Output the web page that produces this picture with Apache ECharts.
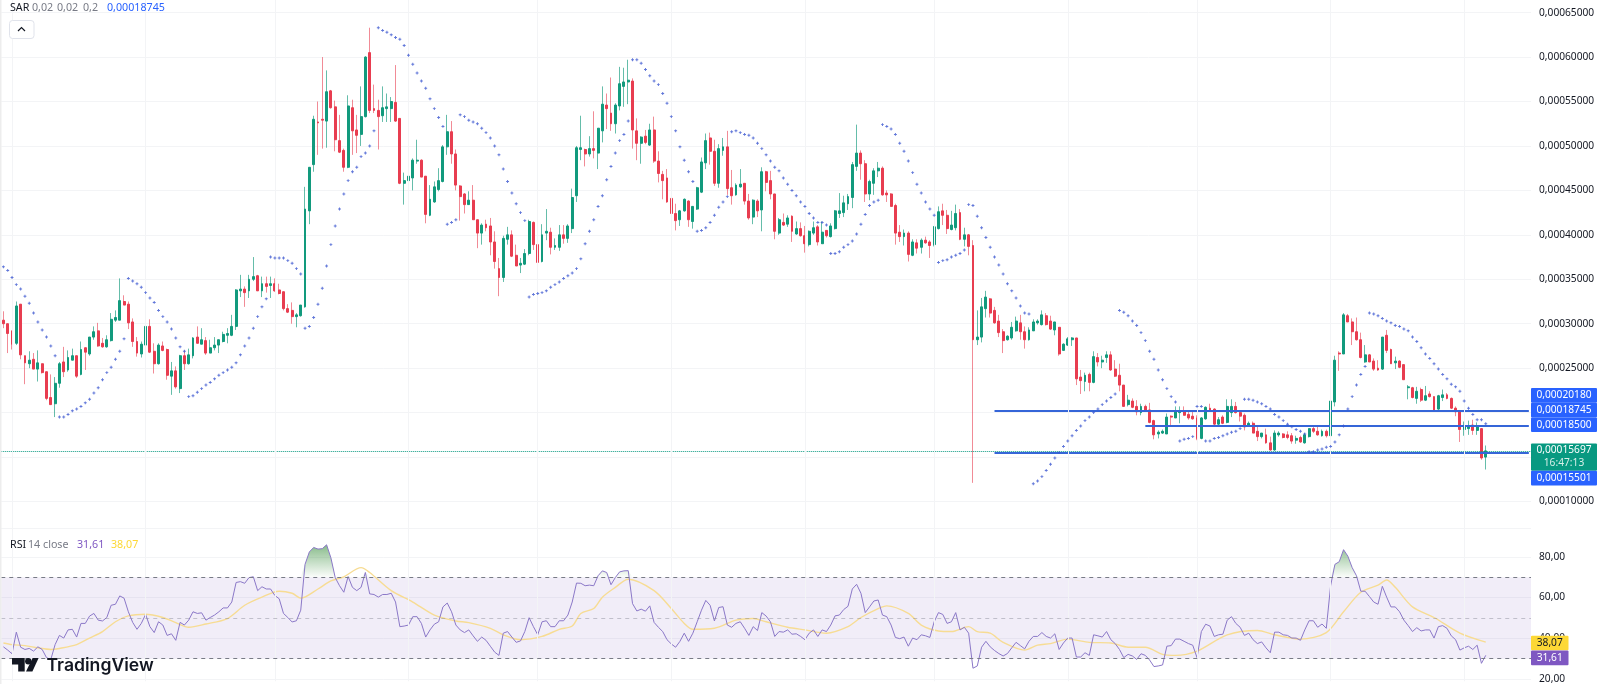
<!DOCTYPE html>
<html><head><meta charset="utf-8">
<script src="https://cdn.jsdelivr.net/npm/echarts@6/dist/echarts.min.js"></script>
<style>html,body{margin:0;padding:0;background:#fff}#c{width:1600px;height:684px}</style>
</head><body><div id="c"></div>
<script>
// prices are in millionths (295 = 0,00029500)
const opens=[304,300,292,278,322,264,255,260,249,255,246,217,210,233,257,248,259,264,243,273,
266,285,292,278,274,281,304,304,325,322,302,280,266,276,297,269,255,275,271,241,
247,227,264,255,264,285,277,281,267,273,276,280,287,287,297,337,339,337,350,354,
337,345,343,345,338,336,317,315,308,309,319,427,479,527,530,528,562,544,506,495,
476,543,518,513,533,605,542,540,534,542,542,549,531,458,461,464,483,484,466,422,
437,451,460,499,516,491,455,446,434,439,417,402,412,410,392,362,352,395,400,377,
366,367,379,414,389,370,402,403,386,386,400,396,407,444,496,496,491,497,492,517,
546,537,525,545,567,572,573,517,503,511,501,518,483,468,464,441,424,417,427,438,
415,429,448,481,509,494,458,495,499,453,445,454,458,438,420,438,428,471,461,446,
402,414,412,421,401,407,399,389,402,409,390,405,398,407,424,425,435,442,477,492,
480,446,458,472,475,447,446,433,403,398,402,377,391,386,394,392,389,407,427,422,
406,408,425,395,400,388,282,285,317,328,315,303,291,282,284,292,301,291,282,292,
301,299,309,303,293,296,270,276,282,284,240,235,243,234,262,257,262,265,249,242,
231,209,213,207,200,207,203,191,176,177,176,196,194,200,202,198,196,194,171,193,
205,204,187,195,189,200,207,200,197,186,188,179,173,175,166,158,175,176,175,174,
169,172,166,173,182,179,174,179,174,212,267,266,309,302,291,282,257,265,258,250,
249,287,271,256,258,254,228,228,216,226,214,221,218,204,217,220,216,205,202,181,
182,186,180,182,150];
const closes=[300,289,277,320,265,256,259,249,256,245,216,209,233,255,246,262,264,241,271,268,
285,291,275,274,282,305,307,326,321,301,280,267,277,297,268,255,276,270,242,247,
229,264,255,265,284,278,282,267,273,276,282,288,289,297,338,339,335,350,353,337,
345,342,345,337,334,317,313,308,310,321,429,476,530,526,529,561,543,507,493,476,
545,517,512,533,600,540,540,533,543,544,550,528,458,461,466,484,484,465,423,440,
454,461,499,516,491,456,443,434,439,417,402,411,408,392,370,352,396,400,376,365,
368,379,415,389,369,400,404,386,388,400,396,410,442,498,498,491,497,495,520,547,
542,525,546,570,572,574,518,503,510,504,518,483,469,461,437,424,416,427,440,417,
432,453,482,506,494,458,497,499,452,444,456,457,438,419,439,427,471,459,446,404,
417,411,419,404,407,399,390,404,408,392,403,399,410,427,427,436,443,479,492,480,
446,460,472,475,445,445,432,402,398,402,378,392,385,394,391,388,409,426,422,407,
411,424,395,400,387,282,285,319,330,312,301,290,281,286,296,303,291,282,293,302,
303,310,299,294,302,266,277,283,284,238,236,242,234,263,257,259,265,248,241,231,
207,214,206,201,207,202,189,175,178,179,195,195,201,201,197,194,193,171,194,206,
202,187,192,188,207,207,200,196,184,188,177,173,177,166,158,177,177,172,172,168,
171,167,175,182,179,175,179,174,213,259,266,310,302,291,282,262,265,257,249,248,
285,270,255,258,251,237,229,217,224,214,219,218,203,219,220,216,205,201,181,184,
185,180,184,149,156.97];
const highs=[314,300,292,325,322,264,269,267,270,255,246,243,240,257,274,270,272,264,280,273,
285,297,301,284,287,312,315,351,332,325,306,285,280,301,305,278,278,280,272,257,
252,265,270,272,285,297,295,285,282,285,282,291,295,310,339,355,342,355,375,355,
353,353,353,351,345,336,322,324,312,321,454,476,534,550,600,585,563,551,535,497,
557,552,535,567,601,633,569,552,567,559,555,591,531,470,475,486,507,485,466,456,
460,475,501,535,528,496,456,447,449,456,417,413,417,419,404,374,399,409,405,389,
374,384,417,415,394,412,429,408,396,411,411,412,452,500,534,497,511,539,520,567,
559,577,548,589,588,597,576,531,511,518,525,533,494,472,474,441,435,428,441,439,
432,454,487,514,515,507,502,509,517,473,458,474,458,446,440,440,476,472,472,446,
419,424,422,422,415,414,410,405,415,411,415,405,413,428,447,444,446,482,524,495,
484,462,475,482,477,450,447,435,411,406,404,395,395,396,398,394,410,432,435,428,
427,434,429,408,401,394,315,329,337,329,319,310,294,287,302,308,310,297,296,305,
305,315,312,309,302,296,278,285,285,284,248,245,245,269,267,264,269,269,259,255,
231,220,216,214,210,209,211,192,180,181,199,197,207,207,207,201,201,197,195,207,
210,205,195,197,215,215,212,202,199,190,190,186,177,182,173,180,179,177,179,177,
174,174,177,182,184,185,181,181,215,264,269,312,311,306,307,290,276,266,261,259,
285,293,272,263,259,254,231,229,229,228,230,224,218,220,226,222,217,207,203,190,
191,192,189,182,163];
const lows=[295,267,271,276,260,232,250,249,235,244,214,209,195,228,240,246,259,239,242,248,
264,282,274,273,273,280,302,304,321,294,274,263,262,274,267,244,254,269,237,220,
227,222,248,254,261,278,277,265,267,270,267,279,278,286,293,330,319,329,348,337,
330,335,329,336,333,315,312,300,296,308,318,412,471,490,497,498,542,494,492,471,
475,490,492,500,532,537,537,496,527,527,527,527,457,434,447,450,480,465,413,421,
436,449,459,490,480,450,416,424,434,417,385,389,404,377,362,331,347,389,375,365,
357,366,377,383,366,369,394,378,383,382,390,391,402,437,484,477,488,486,474,504,
519,517,514,540,544,547,497,484,480,502,500,481,459,440,436,411,405,410,426,409,
407,428,447,474,479,455,453,489,445,434,444,453,434,417,412,420,404,449,440,395,
400,410,409,392,400,398,380,387,400,388,390,397,397,406,419,420,428,430,472,462,
437,439,445,465,444,437,432,389,392,388,370,376,379,379,390,374,387,406,411,401,
405,405,394,387,377,121,276,279,307,307,300,285,267,281,282,291,282,272,281,292,
299,298,298,293,287,264,270,275,275,231,221,224,224,233,252,250,256,247,240,224,
207,207,205,197,197,201,188,170,171,176,176,186,194,188,197,192,192,169,170,192,
201,185,186,187,188,195,199,190,180,185,177,168,171,165,157,157,173,171,170,165,
165,166,165,172,177,174,173,172,174,207,247,266,302,276,281,261,256,257,247,247,
248,267,255,249,250,237,215,216,210,212,213,217,201,203,213,215,204,196,167,174,
175,175,175,147,136];
const sar=[364,360,352,344,339,331,323,312,302,293,285,275,264,
195,195,198,202,204,207,211,215,222,228,237,245,251,260,269,283,
351,348,345,341,335,329,324,315,308,302,294,284,274,269,
218,219,223,227,231,234,238,242,245,248,251,256,265,275,284,295,308,319,328,
375,374,374,374,371,368,362,356,
295,297,307,322,340,365,389,410,429,446,461,471,476,488,492,500,517,
633,630,628,625,622,620,613,602,592,582,573,565,553,542,532,522,
412,414,417,
535,533,529,527,525,520,515,509,500,490,474,460,447,435,425,416,
330,333,334,335,337,341,344,347,351,354,357,362,373,390,404,417,432,444,462,477,492,506,513,528,
597,597,593,586,579,573,569,559,548,533,517,499,484,471,460,
404,405,408,414,422,431,437,443,
516,517,515,513,512,509,503,497,490,483,476,472,464,457,450,444,437,432,424,419,414,414,411,
379,379,381,386,389,393,401,412,423,433,437,439,
524,522,519,513,503,494,483,470,457,447,437,429,422,
369,371,372,375,377,379,383,
434,433,421,408,397,386,375,366,356,345,337,329,320,312,311,
120,123,128,135,142,149,155,162,168,174,180,185,191,195,200,204,209,213,217,221,
315,313,309,303,298,290,281,269,260,248,237,227,218,212,
168,170,171,173,
207,207,
168,168,171,172,174,176,178,179,182,
215,215,214,212,210,207,204,198,195,191,187,184,181,179,176,
156,156,158,159,161,162,167,175,185,204,218,231,243,252,
312,311,309,306,303,301,298,297,294,292,285,280,273,266,261,255,249,243,238,232,229,224,213,205,198,192,192,187.45];
const rsi=[35.8,34.2,32.4,43.0,35.6,34.5,35.0,33.7,35.8,34.5,30.5,29.6,36.9,41.4,40.1,44.1,44.4,40.6,47.3,47.3,
50.9,52.2,48.9,48.5,50.2,56.2,56.7,60.8,59.7,53.0,47.8,44.4,47.3,51.7,45.7,42.8,48.1,46.5,41.4,42.2,
39.0,47.8,46.5,48.9,53.0,52.2,52.5,48.9,50.2,51.4,53.0,54.9,54.9,57.8,67.4,67.8,67.0,69.8,70.2,63.4,
65.3,64.2,64.2,61.0,59.4,52.2,50.2,48.0,48.6,53.8,76.3,82.4,84.6,83.8,84.0,85.9,79.5,69.8,65.8,62.6,
70.3,65.0,63.4,65.0,72.3,61.8,61.5,60.2,61.5,61.5,62.1,57.8,45.7,46.0,46.5,50.6,50.6,47.3,40.6,44.1,
46.9,48.1,55.4,57.3,53.0,46.5,44.1,42.8,44.1,41.2,38.5,40.6,39.0,36.1,33.2,31.6,42.5,43.3,40.6,38.0,
38.7,43.3,50.1,45.7,41.7,48.1,48.6,45.7,45.7,48.6,48.6,51.4,57.8,67.1,67.0,65.8,66.1,65.8,70.7,73.1,
72.3,66.3,69.8,72.6,73.1,73.2,57.0,53.4,54.3,53.3,55.9,47.8,45.4,43.3,39.3,37.2,35.6,38.5,42.5,38.5,
42.5,48.1,53.8,58.6,56.2,48.5,55.1,55.5,46.5,45.4,47.3,48.1,44.9,41.4,45.7,43.8,52.6,50.9,48.1,40.9,
43.3,43.0,44.1,42.0,42.2,40.9,39.3,42.5,44.1,40.9,44.1,43.3,46.5,51.0,51.4,54.1,55.7,64.2,66.5,62.1,
52.6,55.4,58.3,58.8,51.4,50.6,46.5,40.4,39.8,40.6,36.1,40.1,39.3,41.7,41.2,40.4,48.1,52.6,51.7,47.3,
48.1,52.6,44.1,45.4,42.5,25.3,26.4,35.6,38.5,35.8,34.0,32.5,31.3,32.5,35.3,38.0,36.4,34.8,38.5,40.9,
40.9,42.8,40.9,40.1,42.2,34.5,37.7,40.1,40.1,30.8,30.8,32.9,31.6,41.7,41.2,40.6,43.3,39.3,37.4,34.5,
30.5,32.1,31.3,29.6,32.4,31.6,29.3,26.1,26.4,26.9,36.1,36.4,39.6,39.6,38.5,37.4,36.6,30.5,43.3,46.9,
46.0,40.9,41.7,42.0,48.9,50.6,47.3,45.4,41.4,42.5,39.3,37.4,38.2,35.3,32.9,43.0,43.0,41.7,41.4,40.1,
40.1,39.0,44.1,48.6,48.6,45.4,47.0,44.9,65.8,76.3,77.6,83.5,80.3,74.7,70.7,63.1,63.1,60.5,57.8,56.7,
65.5,60.2,55.4,55.4,53.0,48.9,46.2,43.3,45.2,43.6,44.1,44.1,40.1,45.7,46.2,44.9,41.2,39.3,34.2,35.3,
36.1,34.5,36.6,27.7,31.61];
const maIndex=[0,2,5,8,11,13,17,20,23,26,29,33,37,40,43,47,52,56,60,64,67,69,73,76,79,83,85,90,95,100,105,108,113,116,120,
125,129,132,134,137,139,142,145,151,155,158,160,165,170,174,177,182,186,191,196,199,203,205,210,213,217,220,224,226,229,232,237,240,
243,247,252,257,261,265,269,272,277,284,291,295,301,307,311,315,319,321,323,327,332,338,344];
const maValues=[37.7,36.9,36.4,35.3,34.5,35.0,36.9,40.1,43.3,48.1,51.0,51.8,50.2,47.7,45.4,47.0,49.7,56.2,60.2,63.1,62.1,59.7,64.2,68.2,70.2,74.7,72.3,63.4,57.8,51.4,48.5,47.7,44.9,41.7,39.3,
40.9,44.4,46.0,52.2,54.6,60.2,65.0,69.0,63.4,54.6,47.3,44.4,44.9,48.9,49.7,48.1,45.4,44.1,42.5,45.7,50.2,54.6,55.9,52.2,46.5,43.6,43.3,45.7,43.3,42.5,38.0,34.2,36.6,
37.4,39.6,38.0,37.7,35.6,35.6,32.1,31.6,33.7,41.7,43.8,41.7,39.6,42.8,53.0,62.6,66.1,68.6,65.0,55.4,50.2,42.5,38.07];
const priceTicks=[100,150,200,250,300,350,400,450,500,550,600,650];
const rsiTicks=[20,40,60,80];
const dateTickIndex=[2,33,63,94,124,155,186,216,247,277,308,339];
const levelLines=[{from:230,value:201.8},{from:265,value:185},{from:230,value:155.01}];
const lastPrice=156.97;
const slots=Array.from({length:opens.length+10},(_,i)=>String(i));

const font='"Noto Sans"';
const UP='#129a7d',DOWN='#e83d50',GRID='#f3f4f6',TXT='#131722',MUTED='#787b86',BLUE='#2962ff';
const fmtPrice=v=>(v/1e6).toFixed(8).replace('.',',');
const fmtRsi=v=>v.toFixed(2).replace('.',',');
const vLines=dateTickIndex.map(i=>({xAxis:i}));

function tag(x,y,w,h,fill,label,color){
  return {type:'rect',z:50,shape:{x,y,width:w,height:h,r:1},style:{fill},
    textContent:{style:{text:label,fill:color||'#fff',font:'10.2px '+font},z:51},
    textConfig:{position:'inside'}};
}
function txt(x,y,t,c,size){return {type:'text',z:40,x,y,style:{text:t,fill:c,font:(size||10.7)+'px '+font,textVerticalAlign:'middle'}};}

const graphic=[
 {type:'rect',z:30,shape:{x:0,y:0,width:1.5,height:684},style:{fill:'#ededed'}},
 {type:'rect',z:1,shape:{x:0,y:528,width:1531,height:1},style:{fill:GRID}},
 txt(10,7.5,'SAR',TXT),txt(32,7.5,'0,02',MUTED),txt(57,7.5,'0,02',MUTED),txt(83,7.5,'0,2',MUTED),txt(107,7.5,'0,00018745','#2962ff'),
 {type:'rect',z:40,shape:{x:9.5,y:20.5,width:24.5,height:18,r:3},style:{fill:'#fff',stroke:'#e0e3eb',lineWidth:1}},
 {type:'polyline',z:41,shape:{points:[[18,31],[21.5,27.5],[25,31]]},style:{stroke:TXT,lineWidth:1.2,fill:null}},
 txt(10,544.5,'RSI',TXT),txt(28,544.5,'14 close',MUTED),txt(77,544.5,'31,61','#7e57c2'),txt(111,544.5,'38,07','#fdd835'),
 tag(1531,388,66,14.7,BLUE,'0,00020180'),
 tag(1531,402.7,66,14.7,BLUE,'0,00018745'),
 tag(1531,417.4,66,14.7,BLUE,'0,00018500'),
 {type:'rect',z:50,shape:{x:1531,y:443.5,width:66,height:27.2,r:1},style:{fill:'#089981'}},
 {type:'text',z:51,x:1564,y:450.5,style:{text:'0,00015697',fill:'#fff',font:'10.2px '+font,textAlign:'center',textVerticalAlign:'middle'}},
 {type:'text',z:51,x:1564,y:463,style:{text:'16:47:13',fill:'#d8efe9',font:'10.2px '+font,textAlign:'center',textVerticalAlign:'middle'}},
 tag(1531,470.7,66,14.7,BLUE,'0,00015501'),
 tag(1531,635.7,37.5,14.5,'#fdd835','38,07',TXT),
 tag(1531,650.5,37.5,14.8,'#7e57c2','31,61'),
 // TradingView mark
 {type:'polygon',z:40,shape:{points:[[12,658],[24.7,658],[24.7,671.6],[18.2,671.6],[18.2,664.6],[12,664.6]]},style:{fill:TXT}},
 {type:'circle',z:40,shape:{cx:28.3,cy:661.2,r:3.2},style:{fill:TXT}},
 {type:'polygon',z:40,shape:{points:[[32.6,658],[38.6,658],[32.4,671.6],[26,671.6]]},style:{fill:TXT}},
 {type:'text',z:40,x:46.5,y:665.5,style:{text:'TradingView',fill:TXT,font:'600 17.6px Inter',textVerticalAlign:'middle'}}
];

const option={
 animation:false,backgroundColor:'#fff',
 textStyle:{fontFamily:font},
 grid:[{left:1.25,top:0,width:1529.75,height:528,containLabel:false},{left:1.25,top:528.3,width:1529.75,height:155.7}],
 xAxis:[{type:'category',gridIndex:0,data:slots,show:false},{type:'category',gridIndex:1,data:slots,show:false}],
 yAxis:[
  {type:'value',gridIndex:0,position:'right',min:70.2,max:664.2,axisLine:{show:false},
   axisTick:{show:false,customValues:priceTicks},
   axisLabel:{customValues:priceTicks,formatter:fmtPrice,margin:8,color:TXT,fontSize:10.2,fontFamily:font},
   splitLine:{lineStyle:{color:GRID,width:1}}},
  {type:'value',gridIndex:1,position:'right',min:18.9,max:94,axisLine:{show:false},
   axisTick:{show:false,customValues:rsiTicks},
   axisLabel:{customValues:rsiTicks,formatter:fmtRsi,margin:8,color:TXT,fontSize:10.2,fontFamily:font},
   splitLine:{lineStyle:{color:GRID,width:1}}}
 ],
 graphic:{elements:graphic},
 series:[
  {type:'line',name:'grid-price',xAxisIndex:0,yAxisIndex:0,data:[],z:0,silent:true,
   markLine:{silent:true,symbol:'none',animation:false,label:{show:false},lineStyle:{color:GRID,width:1,type:'solid'},data:vLines}},
  {type:'line',name:'grid-rsi',xAxisIndex:1,yAxisIndex:1,data:[],z:0,silent:true,
   markLine:{silent:true,symbol:'none',animation:false,label:{show:false},lineStyle:{color:GRID,width:1,type:'solid'},data:vLines}},
  {type:'candlestick',name:'Price range',xAxisIndex:0,yAxisIndex:0,z:2,barWidth:1,
   data:opens.map((o,i)=>[o,closes[i],lows[i],highs[i]]),
   itemStyle:{color:'rgba(18,154,125,0.65)',color0:'rgba(232,61,80,0.6)',borderColor:'rgba(18,154,125,0.65)',borderColor0:'rgba(232,61,80,0.6)',borderWidth:1}},
  {type:'candlestick',name:'Price',xAxisIndex:0,yAxisIndex:0,z:3,barWidth:2.4,
   data:opens.map((o,i)=>[o,closes[i],Math.min(o,closes[i]),Math.max(o,closes[i])]),
   itemStyle:{color:UP,color0:DOWN,borderColor:UP,borderColor0:DOWN,borderWidth:1},
   markLine:{silent:true,symbol:'none',animation:false,label:{show:false},z:4,
    data:[
     {yAxis:lastPrice,lineStyle:{color:'#089981',width:1,type:'dotted'}},
     ...levelLines.map(l=>[{coord:[l.from,l.value],lineStyle:{color:'#3565d8',width:2,type:'solid'}},{coord:[slots.length-1,l.value]}])
    ]}},
  {type:'scatter',name:'SAR',xAxisIndex:0,yAxisIndex:0,z:5,
   symbol:'path://M1,0H2V1H3V2H2V3H1V2H0V1H1Z',symbolSize:2.9,
   data:sar.map((v,i)=>[i,v]),itemStyle:{color:'#3a55d0'}},
  {type:'line',name:'RSI band',xAxisIndex:1,yAxisIndex:1,data:[],z:1,silent:true,
   markArea:{silent:true,animation:false,itemStyle:{color:'rgba(126,87,194,0.11)'},data:[[{yAxis:70},{yAxis:30}]]},
   markLine:{silent:true,symbol:'none',animation:false,label:{show:false},
    data:[{yAxis:70,lineStyle:{color:'#787b86',width:1,type:[4,4]}},
          {yAxis:50,lineStyle:{color:'rgba(120,123,134,0.4)',width:1,type:[4,4]}},
          {yAxis:30,lineStyle:{color:'#787b86',width:1,type:[4,4]}}]}},
  {type:'line',name:'overbought',xAxisIndex:1,yAxisIndex:1,z:2,showSymbol:false,silent:true,
   data:rsi.map(v=>Math.max(v,70)),lineStyle:{width:0,opacity:0},
   areaStyle:{origin:70,opacity:1,color:new echarts.graphic.LinearGradient(0,0,0,1,[{offset:0,color:'rgba(56,142,60,0.6)'},{offset:1,color:'rgba(56,142,60,0.02)'}])}},
  {type:'line',name:'RSI MA',xAxisIndex:1,yAxisIndex:1,z:3,showSymbol:false,smooth:0.3,
   data:maIndex.map((x,i)=>[x,maValues[i]]),lineStyle:{color:'#f7dc93',width:1.4}},
  {type:'line',name:'RSI',xAxisIndex:1,yAxisIndex:1,z:4,showSymbol:false,
   data:rsi,lineStyle:{color:'#8b78c8',width:1}}
 ]
};
const chart=echarts.init(document.getElementById('c'));
chart.setOption(option);
</script></body></html>
